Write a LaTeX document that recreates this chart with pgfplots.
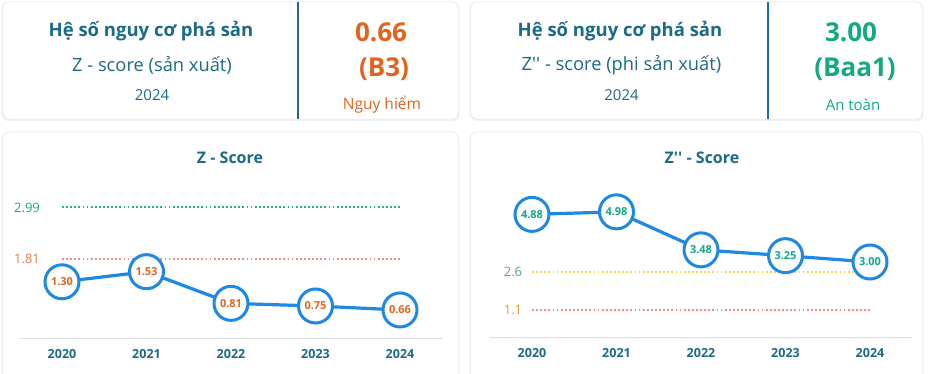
\documentclass[border=0pt]{standalone}
\usepackage{pgfplots}
\pgfplotsset{compat=1.18}
\usepackage{pgfplotstable}
\usepackage{fontspec}
\setmainfont{Open Sans}[Ligatures=TeXOff]
\definecolor{cTeal}{HTML}{1B6A87}
\definecolor{cOrange}{HTML}{E0641E}
\definecolor{cGreen}{HTML}{14A883}
\definecolor{cLineG}{HTML}{1DB386}
\definecolor{cBlue}{HTML}{1E88E5}
\definecolor{cRed}{HTML}{F28A8A}
\definecolor{cYellow}{HTML}{F7D44A}
\definecolor{cGray}{HTML}{5E9AA8}
\definecolor{cGold}{HTML}{E99A3A}
\definecolor{cDiv}{HTML}{1A6FB4}

\pgfplotstableread{
x y lab
0 1.30 1.30
1 1.53 1.53
2 0.81 0.81
3 0.75 0.75
4 0.66 0.66
}\zdata
\pgfplotstableread{
x y lab
0 4.88 4.88
1 4.98 4.98
2 3.48 3.48
3 3.25 3.25
4 3.00 3.00
}\zzdata

\newcommand\fs[1]{\fontsize{#1}{#1}\selectfont}

\pgfplotsset{card/.style={
  scale only axis, width=422.5pt, xmin=-0.5, xmax=4.5,
  axis x line=bottom, axis y line=none,
  x axis line style={draw=black!13, line width=1pt, -},
  xtick={0,1,2,3,4}, xticklabels={2020,2021,2022,2023,2024},
  ytick=\empty, major tick length=0pt,
  xticklabel style={font=\bfseries\fs{12.5}, text=cTeal, yshift=-7pt},
  clip=false},
  serie/.style={cBlue, line width=3.2pt, mark=*, mark size=17pt,
  mark options={fill=white, draw=cBlue, line width=3pt},
  nodes near coords, point meta=explicit symbolic,
  nodes near coords style={anchor=center, font=\bfseries\fs{11}, text=#1}},
  thr/.style={#1, line width=2pt, dash pattern=on 1.8pt off 2.3pt}
}

\begin{document}
\begin{tikzpicture}[x=1pt,y=1pt]
\useasboundingbox (0,0) rectangle (928,374);
\fill[white] (0,0) rectangle (928,374);
% cards
\foreach \a/\b/\c/\d in {3/255/458/372, 471/255/922/372, 3/-10/458/242, 471/-10/922/242}{
  \fill[black!6, rounded corners=7pt] (\a-1.5,\b-2) rectangle (\c+1.5,\d+0.5);
  \fill[white, draw=black!9, rounded corners=6pt] (\a,\b) rectangle (\c,\d);
}
\draw[cTeal, line width=1.2pt] (298,255) -- (298,372);
\draw[cDiv, line width=1.2pt] (768,255) -- (768,372);
% top-left texts
\node[text=cTeal, font=\bfseries\fs{18.5}] at (151,343) {Hệ số nguy cơ phá sản};
\node[text=cTeal, font=\fs{18.3}] at (152,309) {Z - score (sản xuất)};
\node[text=cTeal, font=\fs{15}] at (152,279) {2024};
\node[text=cOrange, font=\bfseries\fs{26}] at (381,342) {0.66};
\node[text=cOrange, font=\bfseries\fs{26}] at (384,305) {(B3)};
\node[text=cOrange, font=\fs{15.5}] at (382,269.5) {Nguy hiểm};
% top-right texts
\node[text=cTeal, font=\bfseries\fs{18.5}] at (620,343) {Hệ số nguy cơ phá sản};
\node[text=cTeal, font=\fs{18.3}] at (621.5,309) {Z'' - score (phi sản xuất)};
\node[text=cTeal, font=\fs{15}] at (621.5,279) {2024};
\node[text=cGreen, font=\bfseries\fs{26}] at (851,342) {3.00};
\node[text=cGreen, font=\bfseries\fs{26}] at (855,305) {(Baa1)};
\node[text=cGreen, font=\fs{15}] at (853,269.5) {An toàn};
% chart titles
\node[text=cTeal, font=\bfseries\fs{16}] at (230,216) {Z - Score};
\node[text=cTeal, font=\bfseries\fs{16}] at (702,216) {Z'' - Score};

\begin{axis}[card, at={(19.75pt,35pt)}, anchor=south west, height=154pt, ymin=0, ymax=3.5]
\addplot[thr=cLineG] coordinates {(0,2.99) (4,2.99)};
\addplot[thr=cRed] coordinates {(0,1.81) (4,1.81)};
\addplot[serie=cOrange] table[x=x, y=y, meta=lab] {\zdata};
\node[text=cGreen, font=\fs{13}] at (axis cs:-0.414,2.99) {2.99};
\node[text=cOrange!85, font=\fs{13}] at (axis cs:-0.414,1.81) {1.81};
\end{axis}

\begin{axis}[card, at={(489.75pt,36pt)}, anchor=south west, height=152pt, ymin=0, ymax=6]
\addplot[thr=cYellow] coordinates {(0,2.6) (4,2.6)};
\addplot[thr=cRed] coordinates {(0,1.1) (4,1.1)};
\addplot[serie=cGreen] table[x=x, y=y, meta=lab] {\zzdata};
\node[text=cGray, font=\fs{13}] at (axis cs:-0.225,2.6) {2.6};
\node[text=cGold, font=\fs{13}] at (axis cs:-0.225,1.1) {1.1};
\end{axis}
\end{tikzpicture}
\end{document}
